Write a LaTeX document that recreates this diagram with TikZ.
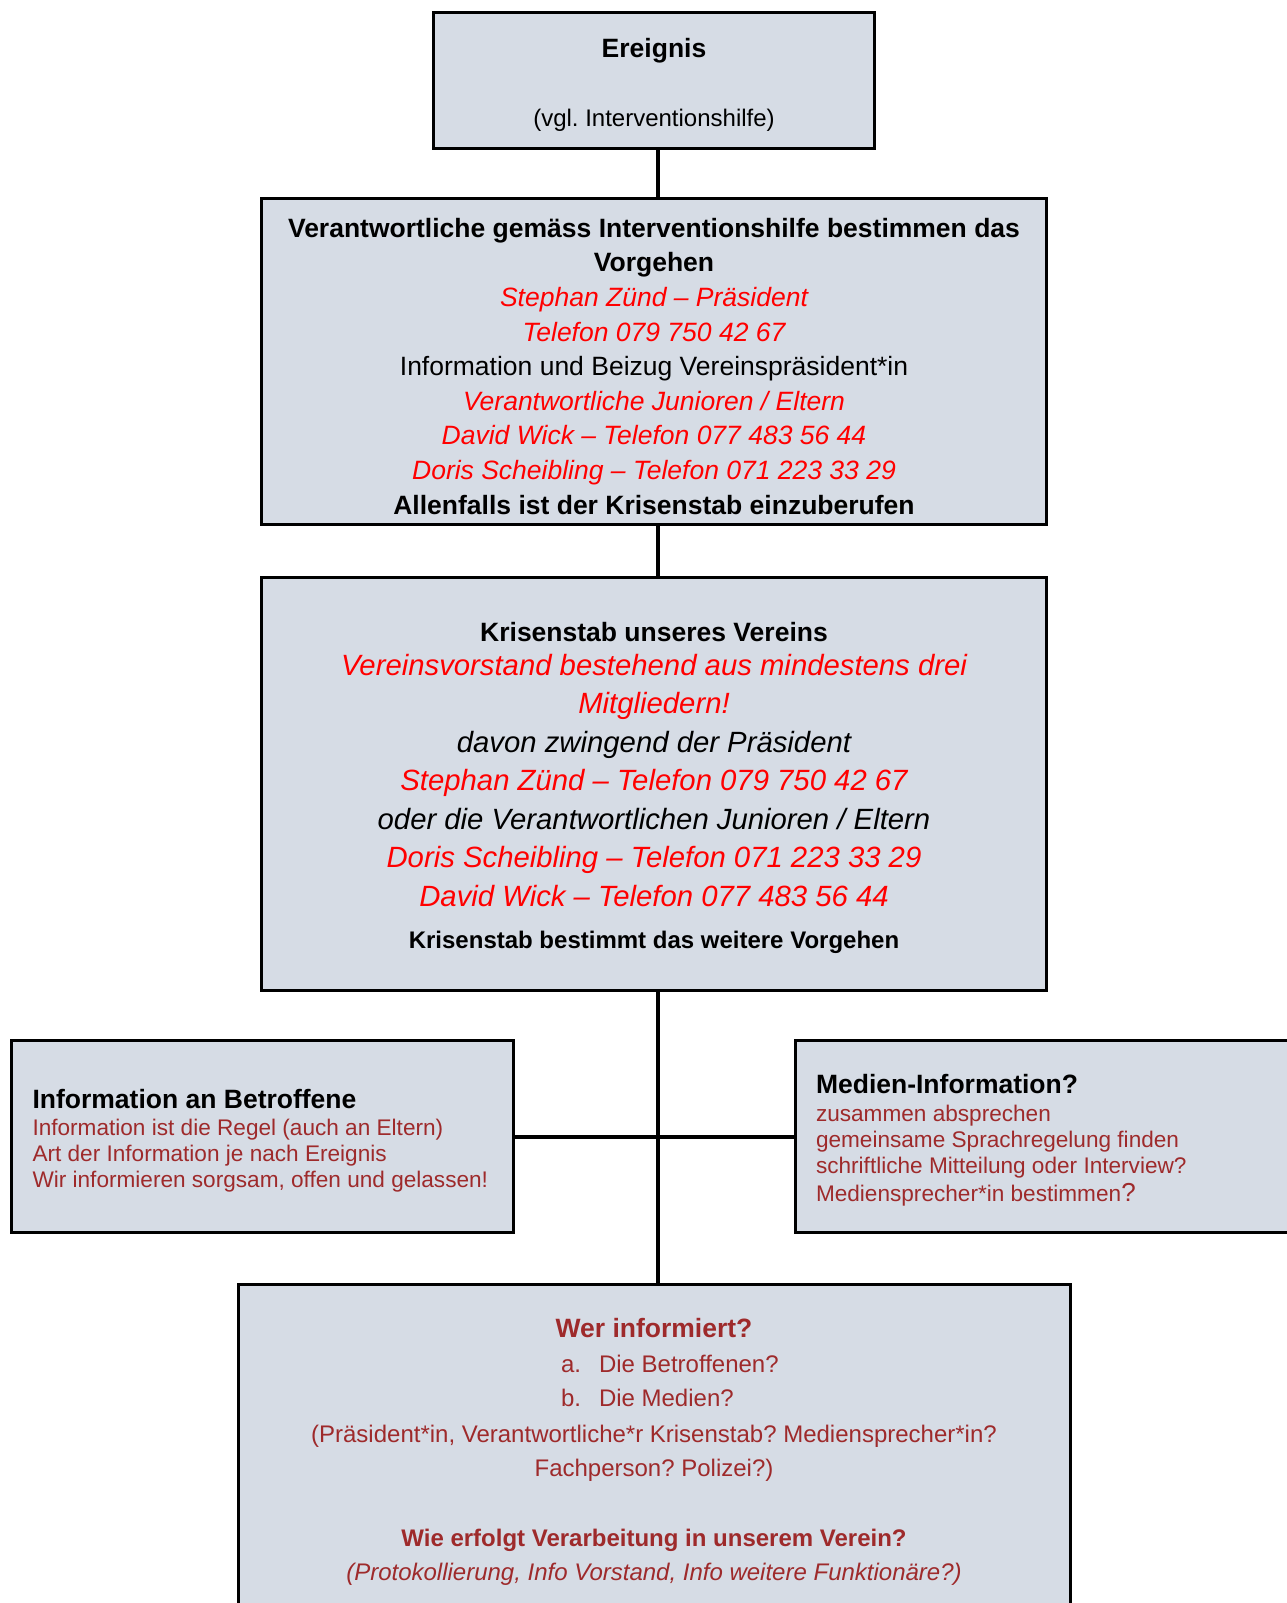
\documentclass[tikz,border=0pt]{standalone}
\usepackage{fontspec}
\setmainfont{Liberation Sans}
\frenchspacing
\definecolor{boxfill}{HTML}{D6DCE5}
\definecolor{darkred}{HTML}{9E2A2B}
\definecolor{brightred}{HTML}{FF0000}
\newcommand\fszA{\fontsize{26.5pt}{30pt}\selectfont}
\newcommand\fszB{\fontsize{24pt}{28pt}\selectfont}
\newcommand\fszC{\fontsize{29.3pt}{33pt}\selectfont}
\newcommand\fszD{\fontsize{22.6pt}{26pt}\selectfont}
\begin{document}
\begin{tikzpicture}[x=1pt,y=-1pt,
  box/.style={draw=black, fill=boxfill, line width=3pt, rectangle, inner sep=0pt, outer sep=0pt},
  conn/.style={line width=4pt, draw=black},
  txt/.style={anchor=base, inner sep=0pt, outer sep=0pt},
  ltxt/.style={anchor=base west, inner sep=0pt, outer sep=0pt},
  rd/.style={text=brightred},
  dr/.style={text=darkred},
]
\useasboundingbox (0,0) rectangle (1287,1603);

% boxes
\node[box, minimum width=441pt, minimum height=135pt] (ev) at (653.5,80.5) {};
\node[box, minimum width=785pt, minimum height=326pt] (vb) at (653.5,361) {};
\node[box, minimum width=785pt, minimum height=413pt] (ks) at (653.5,783.5) {};
\node[box, minimum width=502pt, minimum height=191.5pt] (ib) at (262,1136.7) {};
\node[box, minimum width=515pt, minimum height=191.5pt] (mi) at (1052.5,1136.7) {};
\node[box, minimum width=832pt, minimum height=336pt] (wi) at (654,1452) {};

% connectors
\coordinate (spine) at (658,0);
\draw[conn] (ev.south -| spine) -- (vb.north -| spine);
\draw[conn] (vb.south -| spine) -- (ks.north -| spine);
\draw[conn] (ks.south -| spine) -- (wi.north -| spine);
\draw[conn] (ib.east) -- (mi.west);

% box 1
\node[txt] (ev1) at (654,58) {\fszA\bfseries Ereignis};
\node[txt] (ev2) at (654,126) {\fszB (vgl. Interventionshilfe)};

% box 2
\node[txt] (vb1) at (654,237) {\fszA\bfseries Verantwortliche gemäss Interventionshilfe bestimmen das};
\node[txt] (vb2) at (654,271.7) {\fszA\bfseries Vorgehen};
\node[txt,rd] (vb3) at (654,306.3) {\fszA\itshape Stephan Zünd – Präsident};
\node[txt,rd] (vb4) at (654,341) {\fszA\itshape Telefon 079 750 42 67};
\node[txt] (vb5) at (654,375.6) {\fszA Information und Beizug Vereinspräsident*in};
\node[txt,rd] (vb6) at (654,410.3) {\fszA\itshape Verantwortliche Junioren / Eltern};
\node[txt,rd] (vb7) at (654,444.9) {\fszA\itshape David Wick – Telefon 077 483 56 44};
\node[txt,rd] (vb8) at (654,479.6) {\fszA\itshape Doris Scheibling – Telefon 071 223 33 29};
\node[txt] (vb9) at (654,514.2) {\fszA\bfseries Allenfalls ist der Krisenstab einzuberufen};

% box 3
\node[txt] (ks1) at (654,641.5) {\fszA\bfseries Krisenstab unseres Vereins};
\node[txt,rd] (ks2) at (654,675) {\fszC\itshape Vereinsvorstand bestehend aus mindestens drei};
\node[txt,rd] (ks3) at (654,713.5) {\fszC\itshape Mitgliedern!};
\node[txt] (ks4) at (654,752) {\fszC\itshape davon zwingend der Präsident};
\node[txt,rd] (ks5) at (654,790.5) {\fszC\itshape Stephan Zünd – Telefon 079 750 42 67};
\node[txt] (ks6) at (654,829) {\fszC\itshape oder die Verantwortlichen Junioren / Eltern};
\node[txt,rd] (ks7) at (654,867.5) {\fszC\itshape Doris Scheibling – Telefon 071 223 33 29};
\node[txt,rd] (ks8) at (654,906) {\fszC\itshape David Wick – Telefon 077 483 56 44};
\node[txt] (ks9) at (654,948.5) {\fszB\bfseries Krisenstab bestimmt das weitere Vorgehen};

% left box
\node[ltxt] (ib1) at (32.5,1108.5) {\fszA\bfseries Information an Betroffene};
\node[ltxt,dr] (ib2) at (32.5,1135.5) {\fszD Information ist die Regel (auch an Eltern)};
\node[ltxt,dr] (ib3) at (32.5,1161.3) {\fszD Art der Information je nach Ereignis};
\node[ltxt,dr] (ib4) at (32.5,1187) {\fszD Wir informieren sorgsam, offen und gelassen!};

% right box
\node[ltxt] (mi1) at (816,1093.5) {\fszA\bfseries Medien-Information?};
\node[ltxt,dr] (mi2) at (816,1121) {\fszD zusammen absprechen};
\node[ltxt,dr] (mi3) at (816,1147.3) {\fszD gemeinsame Sprachregelung finden};
\node[ltxt,dr] (mi4) at (816,1173.3) {\fszD schriftliche Mitteilung oder Interview?};
\node[ltxt,dr] (mi5) at (816,1201.5) {\fszD Mediensprecher*in bestimmen{\fontsize{26pt}{30pt}\selectfont ?}};

% bottom box
\node[txt,dr] (wi1) at (654,1337) {\fszA\bfseries Wer informiert?};
\node[ltxt,dr] (wi2a) at (561,1372) {\fszB a.};
\node[ltxt,dr] (wi2) at (599,1372) {\fszB Die Betroffenen?};
\node[ltxt,dr] (wi3a) at (561,1406.5) {\fszB b.};
\node[ltxt,dr] (wi3) at (599,1406.5) {\fszB Die Medien?};
\node[txt,dr] (wi4) at (654,1442) {\fszB (Präsident*in, Verantwortliche*r Krisenstab? Mediensprecher*in?};
\node[txt,dr] (wi5) at (654,1476.5) {\fszB Fachperson? Polizei?)};
\node[txt,dr] (wi6) at (654,1546) {\fszB\bfseries Wie erfolgt Verarbeitung in unserem Verein?};
\node[txt,dr] (wi7) at (654,1580) {\fszB\itshape (Protokollierung, Info Vorstand, Info weitere Funktionäre?)};
\end{tikzpicture}
\end{document}
